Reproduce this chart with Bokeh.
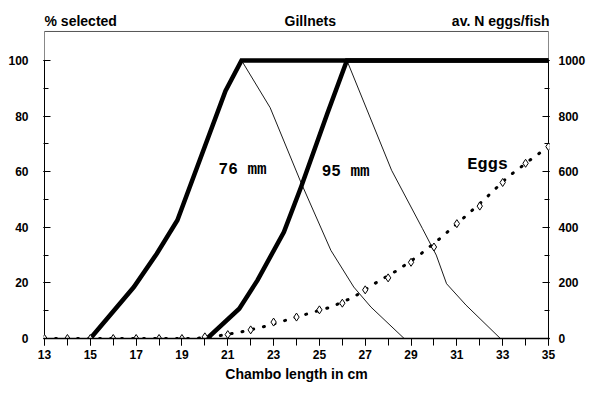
from bokeh.plotting import figure
from bokeh.models import Range1d, LinearAxis, FixedTicker, Label
from bokeh.embed import file_html
from bokeh.resources import INLINE

# ---- data ----
# 76 mm gillnet selection (ascending, thick) and descending (thin)
x76_up = [15.0, 16.9, 17.9, 18.8, 20.9, 21.6, 35.0]
y76_up = [0, 18.5, 30.5, 42.5, 89, 100, 100]
x76_down = [21.6, 22.85, 24.2, 25.5, 26.5, 27.25, 28.7]
y76_down = [100, 83, 56, 31.7, 18.5, 11.3, 0]

# 95 mm gillnet selection
x95_up = [20.1, 21.5, 22.3, 23.45, 24.2, 25.35, 26.2, 35.0]
y95_up = [0, 10.7, 21, 38.3, 54.5, 81, 100, 100]
x95_down = [26.2, 28.15, 29.5, 30.1, 30.55, 31.4, 32.9]
y95_down = [100, 60.5, 39.5, 30, 19.7, 12, 0]

# eggs: fitted curve (dotted) and observed (diamonds)
fit_x = [13, 19.6, 20.7, 21.6, 22.6, 23.6, 24.5, 25.5, 26.5, 27.4, 28.4,
         29.35, 30.3, 31.3, 32.2, 33.2, 34.2, 35]
fit_eggs = [0, 0, 11, 24, 43, 67, 89, 113, 149, 197, 245, 299, 362, 434,
            500, 579, 642, 690]
obs_x = list(range(13, 36))
obs_eggs = [0, 0, 0, 0, 0, 0, 0, 6, 14, 31, 59, 77, 103, 127, 175, 218,
            274, 329, 413, 476, 561, 630, 690]

x_ticks = list(range(13, 36, 2))
x_minor = list(range(13, 36))
y_ticks = [0, 20, 40, 60, 80, 100]
y_minor = list(range(0, 101, 10))
egg_ticks = [0, 200, 400, 600, 800, 1000]
egg_minor = list(range(0, 1001, 100))

X0, X1 = 13, 35
Y_TOP = 110.4      # top border of the chart box (in % units)
Y_HEAD = 114.0     # header text line

FONT = "Liberation Sans"

p = figure(width=600, height=394, x_range=Range1d(12.956, 35.044),
           y_range=Range1d(0, 120.1), output_backend="svg",
           toolbar_location=None, min_border_left=43, min_border_right=51,
           min_border_top=4, min_border_bottom=56)
p.extra_y_ranges = {"eggs": Range1d(0, 1201)}
p.grid.visible = False
p.outline_line_color = None
p.background_fill_color = "white"
p.border_fill_color = "white"

xa = p.xaxis[0]
xa.ticker = FixedTicker(ticks=x_ticks, minor_ticks=x_minor)
xa.major_tick_in = 0
xa.major_tick_out = 7
xa.minor_tick_in = 0
xa.minor_tick_out = 7
xa.axis_line_width = 1.5
xa.axis_line_color = "black"
xa.major_tick_line_color = "black"
xa.minor_tick_line_color = "black"
xa.major_label_text_font = FONT
xa.major_label_text_font_style = "bold"
xa.major_label_text_font_size = "12px"
xa.major_label_text_color = "black"
xa.major_label_standoff = 4
xa.axis_label = "Chambo length in cm"
xa.axis_label_text_font = FONT
xa.axis_label_text_font_style = "bold"
xa.axis_label_text_font_size = "14px"
xa.axis_label_text_color = "black"
xa.axis_label_standoff = 4

ya = p.yaxis[0]
ya.ticker = FixedTicker(ticks=y_ticks, minor_ticks=y_minor)
ya.major_tick_in = 7
ya.major_tick_out = 0
ya.minor_tick_in = 5
ya.minor_tick_out = 0
ya.axis_line_color = None
ya.major_tick_line_color = "black"
ya.minor_tick_line_color = "black"
ya.major_label_text_font = FONT
ya.major_label_text_font_style = "bold"
ya.major_label_text_font_size = "12px"
ya.major_label_text_color = "black"
ya.major_label_standoff = 15

ra = LinearAxis(y_range_name="eggs",
                ticker=FixedTicker(ticks=egg_ticks, minor_ticks=egg_minor))
ra.major_tick_in = 7
ra.major_tick_out = 0
ra.minor_tick_in = 5
ra.minor_tick_out = 0
ra.axis_line_color = None
ra.major_label_text_font = FONT
ra.major_label_text_font_style = "bold"
ra.major_label_text_font_size = "12px"
ra.major_label_text_color = "black"
ra.major_label_standoff = 9
p.add_layout(ra, "right")

# chart box: side lines and top border
p.segment(x0=[X0, X1], y0=[0, 0], x1=[X0, X1], y1=[100, 100],
          line_color="black", line_width=1)
p.segment(x0=[X0, X1], y0=[100, 100], x1=[X0, X1], y1=[Y_TOP, Y_TOP],
          line_color="#888888", line_width=1)
p.segment(x0=[X0], y0=[Y_TOP], x1=[X1], y1=[Y_TOP],
          line_color="#555555", line_width=1)

# selection curves
p.line(x76_up, y76_up, line_color="black", line_width=4.5, line_join="miter")
p.line(x95_up, y95_up, line_color="black", line_width=4.5, line_join="miter")
p.line(x76_down, y76_down, line_color="black", line_width=0.9)
p.line(x95_down, y95_down, line_color="black", line_width=0.9)

# eggs
p.line(fit_x, fit_eggs, y_range_name="eggs", line_color="black",
       line_width=3.0, line_dash="1 10", line_cap="round")
p.scatter(obs_x, obs_eggs, y_range_name="eggs", marker="diamond", size=8,
          fill_color="white", line_color="black", line_width=1)

# annotations inside the plot
for txt, x, y, sz in [("76 mm", 20.6, 60.6, "16px"),
                      ("95 mm", 25.1, 60.0, "16px"),
                      ("Eggs", 31.45, 62.4, "17px")]:
    p.add_layout(Label(x=x, y=y, text=txt, text_font="Liberation Mono",
                       text_font_style="bold", text_font_size=sz,
                       text_baseline="middle", text_align="left",
                       text_color="black"))

# header
for txt, x, align in [("% selected", 13.0, "left"), ("Gillnets", 24.6, "center"),
                      ("av. N eggs/fish", 35.05, "right")]:
    p.add_layout(Label(x=x, y=Y_HEAD, text=txt, text_font=FONT,
                       text_font_style="bold", text_font_size="14px",
                       text_baseline="middle", text_align=align,
                       text_color="black"))

open("out.html", "w").write(file_html(p, INLINE))
